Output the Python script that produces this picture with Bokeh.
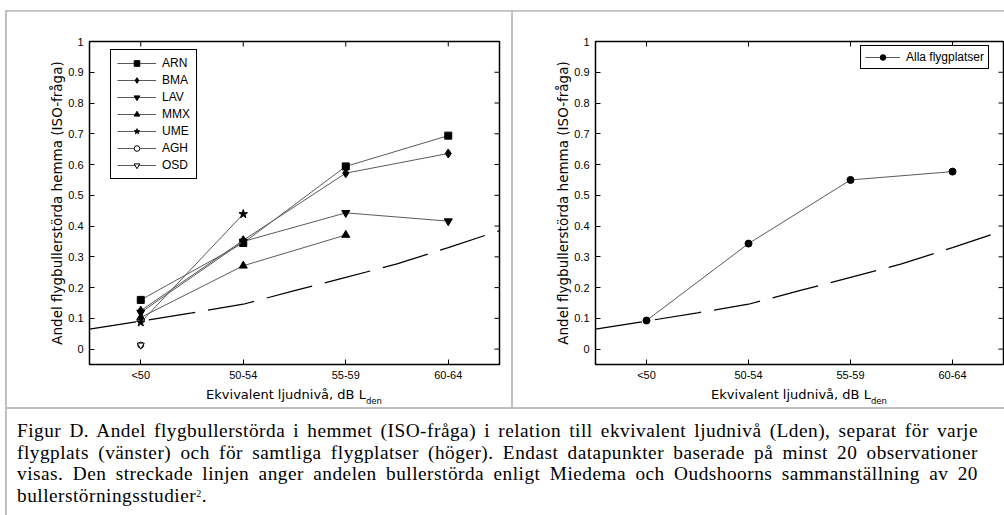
from bokeh.plotting import figure
from bokeh.models import Range1d, FixedTicker, Legend, LegendItem, Div
from bokeh.layouts import row, column
from bokeh.embed import file_html
from bokeh.resources import INLINE

# ---- data -------------------------------------------------------------
categories = ["<50", "50-54", "55-59", "60-64"]
y_ticks = [0.0, 0.1, 0.2, 0.3, 0.4, 0.5, 0.6, 0.7, 0.8, 0.9, 1.0]

# share annoyed per airport (ISO question), by noise level class
arn = [0.160, 0.345, 0.594, 0.694]
bma = [0.125, 0.354, 0.572, 0.636]
lav = [0.119, 0.350, 0.443, 0.416]
mmx = [0.103, 0.271, 0.371]
ume = [0.087, 0.439]
agh = [0.013]
osd = [0.013]

# all airports pooled
alla = [0.093, 0.343, 0.550, 0.577]

# Miedema & Oudshoorn synthesis curve (dashed), along the class axis
ref_pos = [0.5, 1.0, 1.5, 2.0, 2.5, 3.0, 3.5, 4.0, 4.5]
ref_share = [0.065, 0.091, 0.118, 0.146, 0.190, 0.233, 0.277, 0.330, 0.385]

positions = [i + 1 for i in range(len(categories))]

# ---- page geometry / styling -----------------------------------------
PAGE_W, PAGE_H = 1004, 515
TOP_H = 11            # strip holding the upper gray rule
FIG_H = 375           # plot row
XLAB_H = 21           # strip holding the x-axis titles
CAP_H = PAGE_H - TOP_H - FIG_H - XLAB_H
LEFT_W = 7            # strip holding the left gray rule
DIV_W = 2             # gray divider between the panels
PL_W = 504
PR_W = PAGE_W - LEFT_W - PL_W - DIV_W
FRAME_L = 82
FRAME_TOP = 30
FRAME_BOTTOM_GAP = 22
GRAY = "#c0c0c0"
LINE_COL = "#5a5a5a"
TICK_FONT = "Liberation Sans"
LABEL_FONT = "DejaVu Sans"
LABEL_SIZE = 13
X_RANGE = (0.5, 4.5)
Y_RANGE = (-0.05, 1.0)
TICK_PX = 5


def build_panel(width, frame_right_gap):
    p = figure(width=width, height=FIG_H,
               x_range=Range1d(*X_RANGE), y_range=Range1d(*Y_RANGE),
               output_backend="svg", toolbar_location=None,
               min_border_left=FRAME_L, min_border_right=frame_right_gap,
               min_border_top=FRAME_TOP, min_border_bottom=FRAME_BOTTOM_GAP)
    p.grid.visible = False
    p.background_fill_color = "white"
    p.border_fill_color = "white"
    p.outline_line_color = "black"
    p.outline_line_width = 1.5
    p.outline_line_alpha = 1.0

    xa = p.xaxis[0]
    ya = p.yaxis[0]
    xa.ticker = FixedTicker(ticks=positions)
    xa.major_label_overrides = {pos: lab for pos, lab in zip(positions, categories)}
    ya.ticker = FixedTicker(ticks=y_ticks)
    ya.major_label_overrides = {t: f"{t:g}" for t in y_ticks}
    for ax in (xa, ya):
        ax.axis_line_color = None
        ax.major_tick_in = TICK_PX
        ax.major_tick_out = 0
        ax.major_tick_line_color = "black"
        ax.minor_tick_line_color = None
        ax.major_label_text_font = TICK_FONT
        ax.major_label_text_font_size = "11px"
        ax.major_label_text_color = "black"
    xa.major_label_standoff = 4
    ya.major_label_standoff = 6
    ya.axis_label = "Andel flygbullerstörda hemma (ISO-fråga)"
    ya.axis_label_text_font = LABEL_FONT
    ya.axis_label_text_font_size = "13.5px"
    ya.axis_label_text_font_style = "normal"
    ya.axis_label_text_color = "black"
    ya.axis_label_standoff = 0

    # mirrored inward ticks on the top and right edges of the box
    frame_w = width - FRAME_L - frame_right_gap
    frame_h = FIG_H - FRAME_TOP - FRAME_BOTTOM_GAP
    dx = TICK_PX * (X_RANGE[1] - X_RANGE[0]) / frame_w
    dy = TICK_PX * (Y_RANGE[1] - Y_RANGE[0]) / frame_h
    p.segment(x0=positions, x1=positions,
              y0=[Y_RANGE[1]] * len(positions), y1=[Y_RANGE[1] - dy] * len(positions),
              line_color="black", line_width=1)
    p.segment(x0=[X_RANGE[1]] * len(y_ticks), x1=[X_RANGE[1] - dx] * len(y_ticks),
              y0=y_ticks, y1=y_ticks, line_color="black", line_width=1)

    # reference curve
    p.line(ref_pos, ref_share, line_color="black", line_width=1.2, line_dash="47 13")
    return p


def series(p, vals, marker, size, fill):
    xs = positions[:len(vals)]
    lr = p.line(xs, vals, line_color=LINE_COL, line_width=1)
    sr = p.scatter(xs, vals, marker=marker, size=size, fill_color=fill,
                   line_color="black", line_width=1)
    return [lr, sr]


LEG_ROW, LEG_SPACE = 14, 3


def legend(items, left, top, glyph_w, pad):
    h = 2 * pad + len(items) * LEG_ROW + (len(items) - 1) * LEG_SPACE
    frame_h = FIG_H - FRAME_BOTTOM_GAP - FRAME_TOP
    loc = (left, frame_h - (top - FRAME_TOP) - h)
    return Legend(items=items, location=loc, margin=0, padding=pad, spacing=LEG_SPACE,
                  glyph_width=glyph_w, glyph_height=LEG_ROW, label_height=LEG_ROW,
                  label_standoff=6,
                  label_text_font=TICK_FONT, label_text_font_size="12px",
                  label_text_color="black", border_line_color="black",
                  border_line_width=1, border_line_alpha=1.0,
                  background_fill_color="white", background_fill_alpha=1.0)


# ---- left panel: per airport -----------------------------------------
pl = build_panel(PL_W, 12)
entries = [
    ("ARN", arn, "square", 7, "black"),
    ("BMA", bma, "diamond", 9, "black"),
    ("LAV", lav, "inverted_triangle", 8, "black"),
    ("MMX", mmx, "triangle", 8, "black"),
    ("UME", ume, "star", 9, "black"),
    ("AGH", agh, "circle", 6, "white"),
    ("OSD", osd, "inverted_triangle", 7, "white"),
]
items = [LegendItem(label=name, renderers=series(pl, vals, marker, size, fill))
         for name, vals, marker, size, fill in entries]
pl.add_layout(legend(items, 21, 40, 39, 6))

# ---- right panel: all airports ---------------------------------------
pr = build_panel(PR_W, 1)
r_items = [LegendItem(label="Alla flygplatser",
                      renderers=series(pr, alla, "circle", 7, "black"))]
pr.add_layout(legend(r_items, 265, 36, 35, 4))


# ---- gray panel rules, x titles and caption (HTML strips) ------------
def bar(x, y, w, h):
    return (f"<div style='position:absolute;left:{x}px;top:{y}px;width:{w}px;"
            f"height:{h}px;background:{GRAY}'></div>")


def strip(w, h, inner):
    return Div(width=w, height=h, margin=0,
               text=f"<div style='position:relative;width:{w}px;height:{h}px;"
                    f"overflow:hidden;background:white'>{inner}</div>")


top_strip = strip(PAGE_W, TOP_H, bar(5, 9, PAGE_W - 5, 2))
left_strip = strip(LEFT_W, FIG_H, bar(5, 0, 2, FIG_H))
divider = strip(DIV_W, FIG_H, bar(0, 0, DIV_W, FIG_H))


def x_title(left, width):
    return (f"<div style=\"position:absolute;left:{left}px;top:1px;width:{width}px;"
            f"text-align:center;font-family:'{LABEL_FONT}';font-size:{LABEL_SIZE}px;"
            f"line-height:15px;color:black;white-space:nowrap\">Ekvivalent ljudnivå, dB L"
            f"<span style='position:relative;top:5px;font-size:8.5px'>den</span></div>")


pl_frame_left = LEFT_W + FRAME_L
pr_frame_left = LEFT_W + PL_W + DIV_W + FRAME_L
xlab_strip = strip(PAGE_W, XLAB_H,
                   bar(5, 0, 2, XLAB_H) + bar(LEFT_W + PL_W, 0, DIV_W, XLAB_H)
                   + x_title(pl_frame_left, PL_W - FRAME_L - 12)
                   + x_title(pr_frame_left, PR_W - FRAME_L - 1))

lines = [
    "Figur D. Andel flygbullerstörda i hemmet (ISO-fråga) i relation till ekvivalent ljudnivå (Lden), separat för varje",
    "flygplats (vänster) och för samtliga flygplatser (höger). Endast datapunkter baserade på minst 20 observationer",
    "visas. Den streckade linjen anger andelen bullerstörda enligt Miedema och Oudshoorns sammanställning av 20",
]
last_line = ("bullerstörningsstudier"
             "<span style='position:relative;top:-5px;font-size:10px'>2</span>.")
just = "text-align:justify;text-align-last:justify;white-space:nowrap;"
body = "".join(f"<div style='{just}'>{t}</div>" for t in lines)
body += f"<div style='white-space:nowrap'>{last_line}</div>"
caption = strip(PAGE_W, CAP_H,
                bar(5, 0, PAGE_W - 5, 2) + bar(5, 0, 2, CAP_H)
                + "<div style=\"position:absolute;left:17px;top:13px;width:961px;"
                  "font-family:'Liberation Serif';font-size:19.3px;letter-spacing:0.5px;"
                  f"line-height:21.5px;color:black\">{body}</div>")

layout = column(top_strip,
                row(left_strip, pl, divider, pr),
                xlab_strip,
                caption)
open("out.html", "w").write(file_html(layout, INLINE))
